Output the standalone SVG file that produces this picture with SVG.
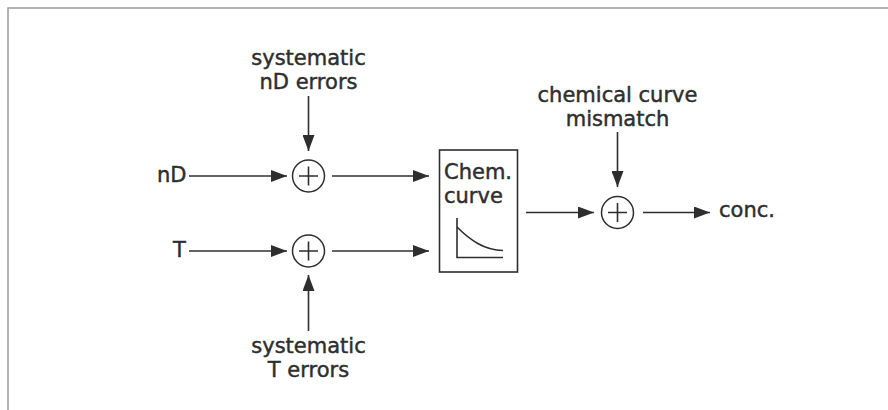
<svg xmlns="http://www.w3.org/2000/svg" width="888" height="410" viewBox="0 0 888 410">
<style>
  .lbl { font-family: "DejaVu Sans", "Liberation Sans", sans-serif; font-size: 21px; fill: #2e2e2e; stroke: #2e2e2e; stroke-width: 0.45; }
  .mid { text-anchor: middle; }
  .ln { stroke: #2e2e2e; stroke-width: 1.6; fill: none; }
  .sum { stroke: #2e2e2e; stroke-width: 1.5; fill: #fff; }
  .frame { stroke: #9a9a9a; stroke-width: 1.5; fill: none; }
</style>
<defs>
  <marker id="arr" markerUnits="userSpaceOnUse" markerWidth="17" markerHeight="12" refX="16" refY="6" orient="auto">
    <path d="M0,0 L16,6 L0,12 z" fill="#2e2e2e"/>
  </marker>
</defs>
<rect width="888" height="410" fill="#fff"/>
<path class="frame" d="M8,410 L8,8 L888,8"/>

<g id="connectors">
  <line class="ln" x1="189" y1="176" x2="287" y2="176" marker-end="url(#arr)"/>
  <line class="ln" x1="308.5" y1="96" x2="308.5" y2="151" marker-end="url(#arr)"/>
  <line class="ln" x1="332" y1="176" x2="429" y2="176" marker-end="url(#arr)"/>
  <line class="ln" x1="189" y1="251" x2="287" y2="251" marker-end="url(#arr)"/>
  <line class="ln" x1="308.5" y1="331" x2="308.5" y2="275" marker-end="url(#arr)"/>
  <line class="ln" x1="332" y1="251" x2="429" y2="251" marker-end="url(#arr)"/>
  <line class="ln" x1="526" y1="212.5" x2="594" y2="212.5" marker-end="url(#arr)"/>
  <line class="ln" x1="617.5" y1="132" x2="617.5" y2="187" marker-end="url(#arr)"/>
  <line class="ln" x1="643" y1="212.5" x2="710" y2="212.5" marker-end="url(#arr)"/>
</g>

<g id="in-nD"><text class="lbl" x="157" y="182">nD</text></g>
<g id="in-T"><text class="lbl" x="173" y="257">T</text></g>
<g id="err-nD">
  <text class="lbl mid" x="308.5" y="65">systematic</text>
  <text class="lbl mid" x="308.5" y="89">nD errors</text>
</g>
<g id="err-T">
  <text class="lbl mid" x="308.5" y="353">systematic</text>
  <text class="lbl mid" x="308.5" y="377">T errors</text>
</g>
<g id="sum-nD">
  <circle class="sum" cx="308.5" cy="176" r="16"/>
  <path class="ln" d="M299,176 H318 M308.5,166.5 V185.5"/>
</g>
<g id="sum-T">
  <circle class="sum" cx="308.5" cy="251" r="16"/>
  <path class="ln" d="M299,251 H318 M308.5,241.5 V260.5"/>
</g>
<g id="chem-curve">
  <rect class="ln" x="439.5" y="150" width="78" height="122"/>
  <text class="lbl" x="444" y="179">Chem.</text>
  <text class="lbl" x="444" y="203">curve</text>
  <path class="ln" d="M457,218 V257.5 H503"/>
  <path class="ln" d="M457,227 C470,240 484,250 503,250.5"/>
</g>
<g id="mismatch">
  <text class="lbl mid" x="617.5" y="102">chemical curve</text>
  <text class="lbl mid" x="617.5" y="126">mismatch</text>
</g>
<g id="sum-out">
  <circle class="sum" cx="617.5" cy="212.5" r="16"/>
  <path class="ln" d="M608,212.5 H627 M617.5,203 V222"/>
</g>
<g id="out-conc"><text class="lbl" x="719" y="217">conc.</text></g>
</svg>
